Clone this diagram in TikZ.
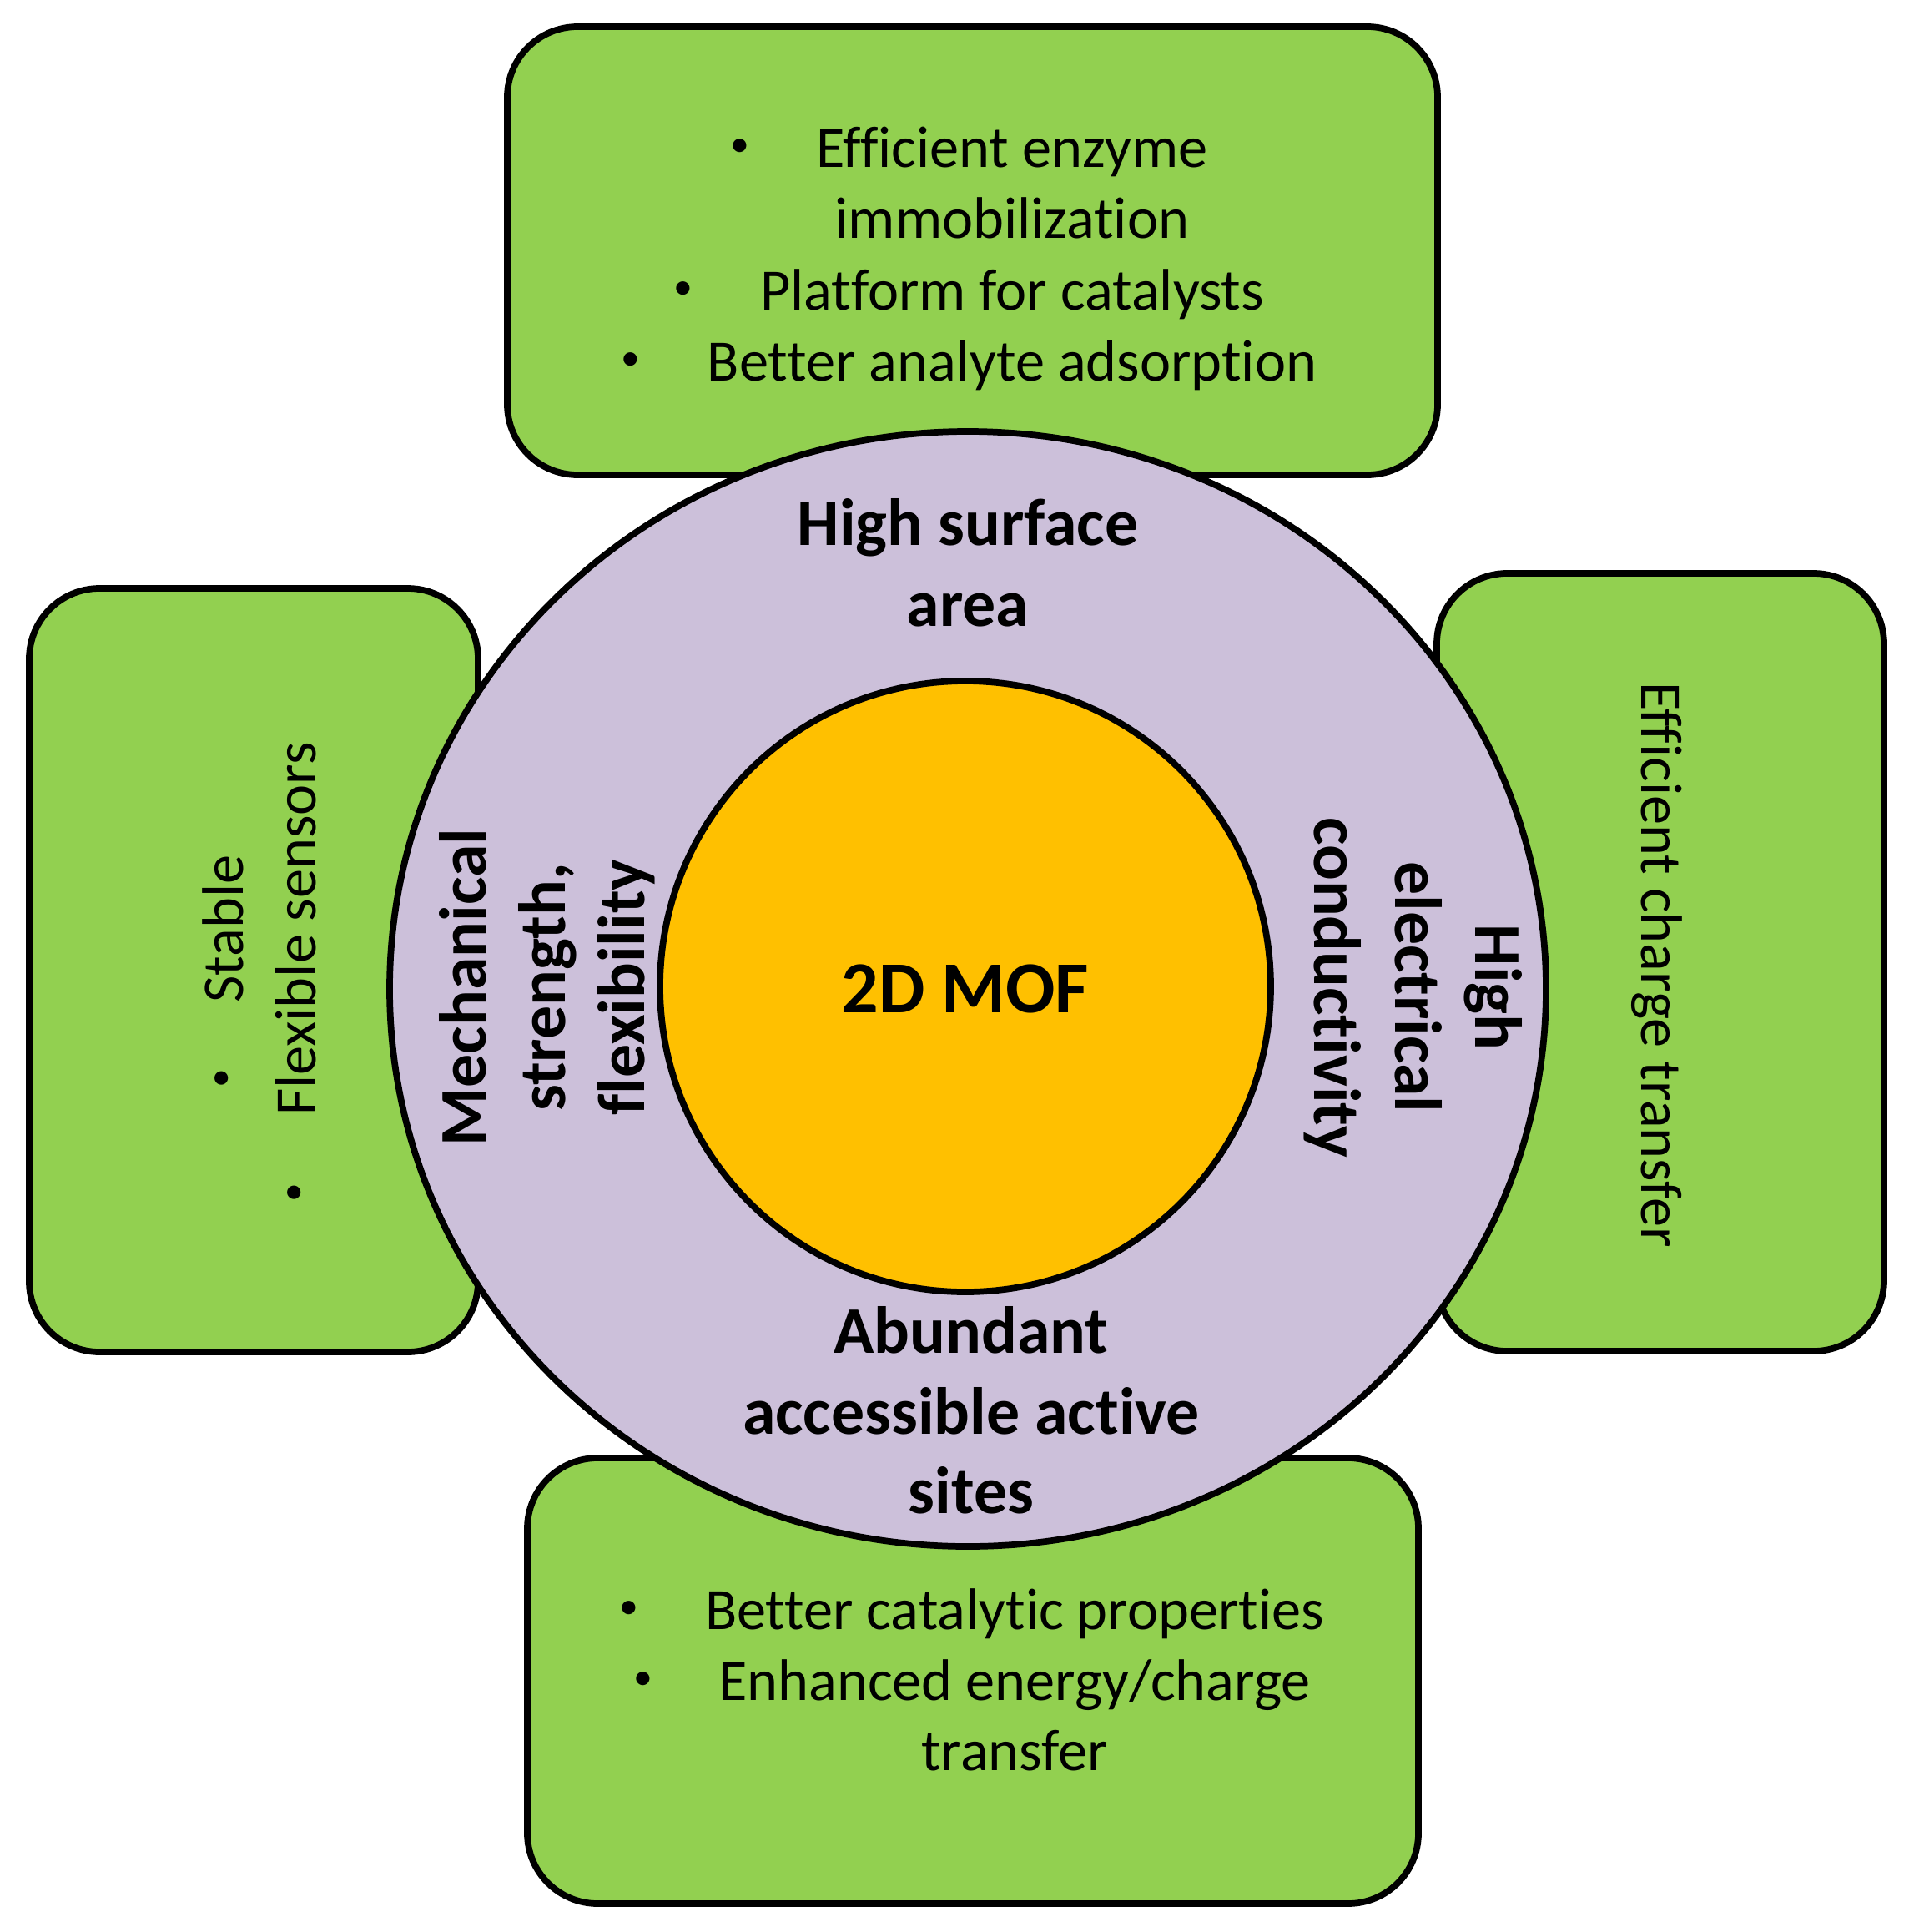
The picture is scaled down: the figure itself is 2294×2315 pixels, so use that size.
\documentclass[tikz,border=0pt]{standalone}
\usepackage{fontspec}
\setmainfont{Carlito}[Ligatures=NoCommon]
\usetikzlibrary{calc}
\definecolor{boxgreen}{HTML}{92D050}
\definecolor{ringlav}{HTML}{CCC0DA}
\definecolor{coreorange}{HTML}{FFC000}
\newcommand{\smallbul}{{\fontsize{13}{13}\selectfont\raisebox{3.6pt}{•}}}
\tikzset{
  greenbox/.style={draw=black, line width=2.2pt, fill=boxgreen, rounded corners=24pt},
  ringshape/.style={draw=black, line width=2.2pt, fill=ringlav},
  coreshape/.style={draw=black, line width=2.2pt, fill=coreorange},
  reg/.style={inner sep=0pt, anchor=base, font=\fontsize{20}{24}\selectfont},
  bld/.style={inner sep=0pt, anchor=base, font=\fontsize{22.7}{27}\selectfont\bfseries},
  bigbld/.style={inner sep=0pt, anchor=base, font=\fontsize{25}{30}\selectfont\bfseries},
}
\begin{document}
\begin{tikzpicture}[x=0.01cm, y=-0.01cm]
\useasboundingbox (0,0) rectangle (2294,2315);

% boxes
\draw[greenbox] (608,32) rectangle (1723,569);
\draw[greenbox] (35,705) rectangle (573,1620);
\draw[greenbox] (1722,687) rectangle (2258,1619);
\draw[greenbox] (632,1747) rectangle (1700,2281);

% ring and core
\filldraw[ringshape] (1160,1185) ellipse [x radius=693, y radius=668];
\filldraw[coreshape] (1157,1182) circle [radius=366];

% top box
\node[reg] (t1) at (1213,200) {Efficient enzyme};
\node[reg] (t2) at (1213,285.5) {immobilization};
\node[reg] (t3) at (1213,371) {Platform for catalysts};
\node[reg] (t4) at (1213,456.5) {Better analyte adsorption};
\node[reg] (tb1) at ($(t1.base west)+(-91,0)$) {\smallbul};
\node[reg] (tb3) at ($(t3.base west)+(-91,0)$) {\smallbul};
\node[reg] (tb4) at ($(t4.base west)+(-91,0)$) {\smallbul};

% bottom box
\node[reg] (b1) at (1216,1952) {Better catalytic properties};
\node[reg] (b2) at (1216,2037) {Enhanced energy/charge};
\node[reg] (b3) at (1216,2121) {transfer};
\node[reg] (bb1) at ($(b1.base west)+(-90,0)$) {\smallbul};
\node[reg] (bb2) at ($(b2.base west)+(-90,0)$) {\smallbul};

% left box
\node[reg, rotate=90] (l1) at (291,1113) {Stable};
\node[reg, rotate=90] (l2) at (378,1113) {Flexible sensors};
\node[reg, rotate=90] (lb1) at ($(l1.base west)+(0,90)$) {\smallbul};
\node[reg, rotate=90] (lb2) at ($(l2.base west)+(0,91)$) {\smallbul};

% right box
\node[reg, rotate=-90] (r1) at (1967,1156) {Efficient charge transfer};

% ring labels
\node[bld] (h1) at (1160,653) {High surface};
\node[bld] (h2) at (1160,750) {area};
\node[bld] (a1) at (1164,1621) {Abundant};
\node[bld] (a2) at (1164,1718) {accessible active};
\node[bld] (a3) at (1164,1813) {sites};
\node[bld, rotate=90] (m1) at (582,1183) {Mechanical};
\node[bld, rotate=90] (m2) at (677,1183) {strength,};
\node[bld, rotate=90] (m3) at (772,1183) {flexibility};
\node[bld, rotate=-90] (e1) at (1768,1183) {High};
\node[bld, rotate=-90] (e2) at (1672,1183) {electrical};
\node[bld, rotate=-90] (e3) at (1575,1183) {conductivity};

% core label
\node[bigbld] (mof) at (1157,1213) {2D MOF};
\end{tikzpicture}
\end{document}
